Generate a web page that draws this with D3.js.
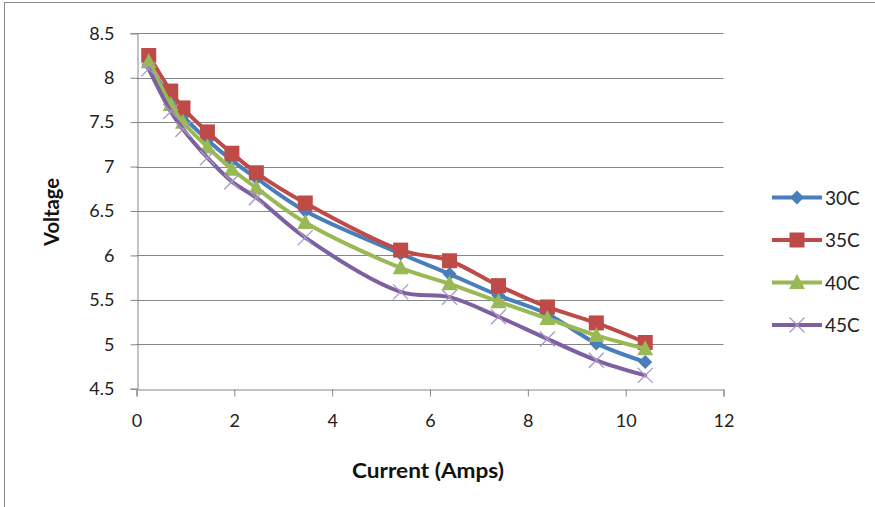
<!DOCTYPE html>
<html><head><meta charset="utf-8">
<script src="https://cdn.jsdelivr.net/npm/d3@7"></script>
<style>html,body{margin:0;padding:0;background:#fff;}svg{display:block;}</style>
</head><body>
<svg id="c" width="875" height="507"></svg>
<script>
const currents = [0.25, 0.7, 0.95, 1.45, 1.95, 2.45, 3.45, 5.4, 6.4, 7.4, 8.4, 9.4, 10.4];
const v30 = [8.15, 7.76, 7.57, 7.30, 7.07, 6.87, 6.50, 6.02, 5.79, 5.55, 5.34, 5.01, 4.80];
const v35 = [8.25, 7.85, 7.66, 7.39, 7.15, 6.93, 6.59, 6.06, 5.94, 5.66, 5.42, 5.24, 5.02];
const v40 = [8.18, 7.70, 7.50, 7.22, 6.97, 6.76, 6.37, 5.86, 5.68, 5.48, 5.29, 5.10, 4.95];
const v45 = [8.10, 7.62, 7.42, 7.10, 6.83, 6.65, 6.20, 5.59, 5.53, 5.31, 5.06, 4.82, 4.65];
const seriesNames = ["30C", "35C", "40C", "45C"];
const xTicks = [0, 2, 4, 6, 8, 10, 12];
const yTicks = [4.5, 5, 5.5, 6, 6.5, 7, 7.5, 8, 8.5];

const colors = ["#4A7EBB", "#BE4B48", "#98B954", "#7D60A0"];
const markers = ["diamond", "square", "triangle", "x"];
const series = [v30, v35, v40, v45].map((vals, i) => ({
  name: seriesNames[i], color: colors[i], marker: markers[i],
  pts: currents.map((c, j) => ({x: c, y: vals[j]}))
}));

const svg = d3.select("#c");
const font = "Lato, 'Open Sans', sans-serif";
const grid = "#868686";

// frame
svg.append("rect").attr("x", 4.5).attr("y", 2.5).attr("width", 900).attr("height", 600)
  .attr("fill", "none").attr("stroke", "#888").attr("stroke-width", 1);

const x = d3.scaleLinear().domain([0, 12]).range([136.5, 723.5]);
const y = d3.scaleLinear().domain([4.5, 8.5]).range([388.7, 33.3]);

// gridlines
svg.append("g").selectAll("line").data(yTicks.slice(1)).join("line")
  .attr("x1", x(0)).attr("x2", x(12))
  .attr("y1", d => Math.round(y(d)) + 0.5).attr("y2", d => Math.round(y(d)) + 0.5)
  .attr("stroke", grid).attr("stroke-width", 1);

// y axis
const yAxis = svg.append("g").attr("transform", `translate(${Math.round(x(0)) + 0.5},0)`)
  .call(d3.axisLeft(y).tickValues(yTicks).tickFormat(d => String(d)).tickSize(7).tickPadding(16));
yAxis.select(".domain").attr("stroke", grid);
yAxis.selectAll(".tick line").attr("stroke", grid);
yAxis.selectAll("text").attr("font-family", font).attr("font-size", 18).attr("fill", "#222");

// x axis
const xAxis = svg.append("g").attr("transform", `translate(0,${Math.round(y(4.5)) + 0.5})`)
  .call(d3.axisBottom(x).tickValues(xTicks).tickFormat(d => String(d)).tickSize(7).tickPadding(18));
xAxis.select(".domain").attr("stroke", grid);
xAxis.selectAll(".tick line").attr("stroke", grid);
xAxis.selectAll("text").attr("font-family", font).attr("font-size", 18).attr("fill", "#222");

// axis titles
svg.append("text").attr("x", 428).attr("y", 478).attr("text-anchor", "middle")
  .attr("font-family", font).attr("font-weight", "bold").attr("font-size", 20).attr("fill", "#111")
  .attr("textLength", 152).attr("lengthAdjust", "spacingAndGlyphs")
  .text("Current (Amps)");
svg.append("text").attr("transform", "translate(59,212) rotate(-90)").attr("text-anchor", "middle")
  .attr("font-family", font).attr("font-weight", "bold").attr("font-size", 20).attr("fill", "#111")
  .attr("textLength", 68).attr("lengthAdjust", "spacingAndGlyphs")
  .text("Voltage");

function drawMarker(g, type, color, cx, cy) {
  if (type === "diamond") {
    g.append("path").attr("d", `M${cx},${cy-7}L${cx+7},${cy}L${cx},${cy+7}L${cx-7},${cy}Z`).attr("fill", color);
  } else if (type === "square") {
    g.append("rect").attr("x", cx-7.5).attr("y", cy-7.5).attr("width", 15).attr("height", 15).attr("fill", color);
  } else if (type === "triangle") {
    g.append("path").attr("d", `M${cx},${cy-8.5}L${cx+8},${cy+6.5}L${cx-8},${cy+6.5}Z`).attr("fill", color);
  } else {
    g.append("path").attr("d", `M${cx-7.5},${cy-7.5}L${cx+7.5},${cy+7.5}M${cx+7.5},${cy-7.5}L${cx-7.5},${cy+7.5}`)
      .attr("stroke", "#A896C8").attr("stroke-width", 1.3).attr("fill", "none");
  }
}

const line = d3.line().x(d => x(d.x)).y(d => y(d.y)).curve(d3.curveCatmullRom.alpha(0.5));
series.forEach(s => {
  const g = svg.append("g");
  g.append("path").attr("d", line(s.pts)).attr("fill", "none").attr("stroke", s.color)
    .attr("stroke-width", 4).attr("stroke-linejoin", "round").attr("stroke-linecap", "round");
  s.pts.forEach(p => drawMarker(g, s.marker, s.color, x(p.x), y(p.y)));
});

// legend
const legY = [197.5, 240, 282.5, 325];
series.forEach((s, i) => {
  const g = svg.append("g");
  g.append("line").attr("x1", 772).attr("x2", 822).attr("y1", legY[i]).attr("y2", legY[i])
    .attr("stroke", s.color).attr("stroke-width", 4);
  drawMarker(g, s.marker, s.color, 797, legY[i]);
  g.append("text").attr("x", 825).attr("y", legY[i] + 7).attr("font-family", font)
    .attr("font-size", 19).attr("fill", "#222").text(s.name);
});
</script>
</body></html>
